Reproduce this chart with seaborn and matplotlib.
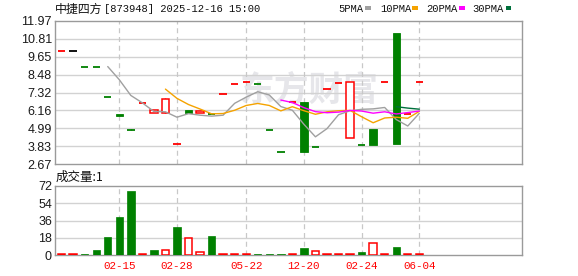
import numpy as np
import pandas as pd
import matplotlib
matplotlib.use("Agg")
import matplotlib.pyplot as plt
from matplotlib.patches import Rectangle
import seaborn as sns

# ---------------- data ----------------
title_name = "中捷四方"
title_rest = "[873948] 2025-12-16 15:00"
vol_label = "成交量:1"
watermark = "东方财富"
ma_labels = ["5PMA", "10PMA", "20PMA", "30PMA"]

opens = [10.0, 10.0, 9.0, 9.0, 7.0, 5.90, 4.88, 6.62, 5.97, 5.97,
         4.0, 6.18, 6.00, 5.93, 7.20, 7.85, 8.00, 7.85, 4.88, 3.45,
         6.69, 6.69, 3.77, 7.55, 7.92, 4.35, 3.92, 4.96, 8.00, 11.17,
         5.93, 8.00]
closes = [10.0, 10.0, 9.0, 9.0, 7.0, 5.77, 4.88, 6.62, 6.17, 6.90,
          4.0, 6.02, 6.12, 5.93, 7.20, 7.85, 8.00, 7.85, 4.88, 3.45,
          6.69, 3.45, 3.77, 7.55, 7.92, 8.00, 3.92, 3.92, 8.00, 4.00,
          5.93, 8.00]
highs = [10.0, 10.0, 9.0, 9.0, 7.0, 5.90, 4.95, 6.62, 6.17, 6.96,
         4.0, 6.18, 6.12, 5.93, 7.20, 7.85, 8.00, 7.85, 4.88, 3.45,
         6.69, 6.69, 3.77, 7.55, 7.92, 8.00, 3.92, 4.96, 8.00, 11.17,
         5.93, 8.00]
lows = [10.0, 10.0, 9.0, 9.0, 7.0, 5.77, 4.88, 6.62, 5.97, 5.97,
        4.0, 6.02, 6.00, 5.93, 7.20, 7.85, 8.00, 7.85, 4.88, 3.45,
        6.69, 3.45, 3.77, 7.55, 7.92, 4.35, 3.92, 3.92, 8.00, 4.00,
        5.93, 8.00]
candle_dir = ["up", "flat", "down", "down", "down", "down", "down", "up", "up", "up",
              "up", "down", "up", "down", "up", "up", "up", "down", "down", "down",
              "up", "down", "down", "up", "up", "up", "down", "down", "up", "down",
              "up", "up"]

volumes = [1, 1, 1, 5.5, 19, 40, 67, 1, 5.5, 5.5,
           29.5, 17.5, 3, 20, 1, 1, 1, 1, 1, 1,
           1, 7.5, 4, 1, 1, 1, 3.5, 12.5, 1, 8.5,
           1, 1]
volume_dir = ["up", "up", "down", "down", "down", "down", "down", "up", "down", "up",
              "down", "up", "up", "down", "up", "up", "up", "down", "down", "down",
              "up", "down", "up", "up", "up", "up", "down", "up", "up", "down",
              "up", "up"]

ma5 = [9.00, 8.15, 7.13, 6.65, 6.09, 6.07, 5.72, 5.95, 5.85, 5.79,
       5.85, 6.62, 7.02, 7.37, 7.16, 6.41, 6.17, 5.26, 4.45, 4.98,
       5.88, 6.14, 6.23, 6.26, 6.35, 5.57, 5.15, 5.97]
ma10 = [7.54, 6.94, 6.54, 6.25, 5.94, 5.96, 6.17, 6.48, 6.61, 6.48,
        6.13, 6.40, 6.14, 5.91, 6.07, 6.14, 6.16, 5.75, 5.36, 5.67,
        5.72, 5.65, 6.10]
ma20 = [6.83, 6.67, 6.34, 6.08, 6.01, 6.05, 6.16, 6.12, 5.98, 6.07,
        5.93, 6.02, 6.12]
ma30 = [6.40, 6.31, 6.24]

date_tick_idx = [5, 10, 16, 21, 26, 31]
date_tick_labels = ["02-15", "02-28", "05-22", "12-20", "02-24", "06-04"]
price_ticks = [2.67, 3.83, 4.99, 6.16, 7.32, 8.48, 9.65, 10.81, 11.97]
vol_ticks = [0, 18, 36, 54, 72]

# ---------------- style ----------------
sns.set_theme(style="white")
plt.rcParams["font.family"] = ["Liberation Sans", "Noto Sans CJK SC", "DejaVu Sans"]

RED = "#FF0000"
GREEN = "#008000"
C_MA = ["#A0A0A0", "#F5A300", "#FF00FF", "#00703C"]
GRID = "#D2D2D2"
FRAME = "#9A9A9A"
W = 0.64

W_PX, H_PX = 578, 276
fig = plt.figure(figsize=(W_PX / 100, H_PX / 100), dpi=100)
fig.patch.set_facecolor("white")

def fx(px):
    return px / W_PX

def fy(py):
    return 1 - py / H_PX

left, right = 55, 522
axp = fig.add_axes([fx(left), fy(164.3), fx(right) - fx(left), fy(20.7) - fy(164.3)])
axv = fig.add_axes([fx(left), fy(255.3), fx(right) - fx(left), fy(186) - fy(255.3)])

n = len(closes)
idx = np.arange(n)
XLIM = (-0.57, 39.9)

for ax in (axp, axv):
    ax.set_facecolor("white")
    for s in ax.spines.values():
        s.set_color(FRAME)
        s.set_linewidth(1.0)
        s.set_visible(True)
    ax.tick_params(axis="both", length=0, pad=2.2, labelsize=9, colors="#1a1a1a")
    for xi in date_tick_idx:
        ax.axvline(xi, color="#C8C8C8", lw=0.9, dashes=(4, 3), zorder=0.5)

# watermark
axp.text(21.44, 7.45, watermark, fontsize=25, color="#E6E6EA", ha="center", va="center",
         family=["Noto Sans CJK SC"], fontweight="bold", zorder=0.3)

# price grid
axp.set_ylim(price_ticks[0], price_ticks[-1])
axp.set_yticks(price_ticks)
axp.set_yticklabels([f"{t:.2f}" for t in price_ticks])
for t in price_ticks[1:-1]:
    axp.axhline(t, color=GRID, lw=1.0, zorder=0.4)
axp.set_xlim(*XLIM)
axp.set_xticks([])

# candles
col = {"up": RED, "down": GREEN, "flat": "#000000"}
for i in range(n):
    o, c, h, l, d = opens[i], closes[i], highs[i], lows[i], candle_dir[i]
    cc = col[d]
    if h > max(o, c) or l < min(o, c):
        axp.vlines(i, l, h, color=cc, lw=1.0, zorder=3)
    if o == c:
        axp.hlines(c, i - W / 2, i + W / 2, color=cc, lw=1.3, zorder=3)
    else:
        lo, hi = min(o, c), max(o, c)
        if d == "up":
            axp.bar(i, hi - lo, bottom=lo, width=W, facecolor="white", edgecolor=cc,
                    linewidth=1.1, zorder=3)
        else:
            axp.bar(i, hi - lo, bottom=lo, width=W, facecolor=cc, edgecolor=cc,
                    linewidth=0.6, zorder=3)

# moving averages
for ma, start, c in zip([ma5, ma10, ma20, ma30], [4, 9, 19, 29], C_MA):
    xs = np.arange(start, start + len(ma))
    sns.lineplot(x=xs, y=ma, ax=axp, color=c, lw=1.0, zorder=4)
axp.set_xlim(*XLIM)
axp.set_ylim(price_ticks[0], price_ticks[-1])
axp.set_xlabel("")
axp.set_ylabel("")

# volume
vdf = pd.DataFrame({"i": idx, "v": volumes, "d": volume_dir})
sns.barplot(data=vdf, x="i", y="v", native_scale=True, width=W, errorbar=None,
            color=GREEN, ax=axv, zorder=3)
for p, d in zip(axv.patches, volume_dir):
    if d == "up":
        p.set_facecolor("white")
        p.set_edgecolor(RED)
        p.set_linewidth(1.1)
    else:
        p.set_facecolor(GREEN)
        p.set_edgecolor(GREEN)
        p.set_linewidth(0.5)
axv.set_ylim(0, 72)
axv.set_yticks(vol_ticks)
axv.set_yticklabels([str(t) for t in vol_ticks])
for t in vol_ticks[1:-1]:
    axv.axhline(t, color=GRID, lw=1.0, zorder=0.4)
axv.set_xlim(*XLIM)
axv.set_xticks(date_tick_idx)
axv.set_xticklabels(date_tick_labels, color=RED, fontsize=7.8, family=["Liberation Mono"])
axv.tick_params(axis="x", pad=4, colors=RED)
axv.set_xlabel("")
axv.set_ylabel("")

# texts
fig.text(fx(55), fy(9.5), title_name, fontsize=8.6, color="#111111", ha="left", va="center",
         family=["Noto Sans CJK SC"])
fig.text(fx(104), fy(9.5), title_rest, fontsize=7.6, color="#111111", ha="left", va="center",
         family=["Liberation Mono"])
fig.text(fx(56), fy(177.5), vol_label, fontsize=9, color="#111111", ha="left", va="center",
         family=["Noto Sans CJK SC"])

leg_pos = [(338, 365), (380, 412), (426, 459), (472, 505.5)]
for (tx, sx), lab, c in zip(leg_pos, ma_labels, C_MA):
    fig.text(fx(tx), fy(9.5), lab, fontsize=7.6, color="#111111", ha="left", va="center",
             family=["Liberation Mono"])
    fig.patches.append(Rectangle((fx(sx), fy(10.3)), fx(5.5), fy(0) - fy(4),
                                 transform=fig.transFigure, facecolor=c, edgecolor="none"))

fig.savefig("out.png", dpi=100, facecolor="white")
